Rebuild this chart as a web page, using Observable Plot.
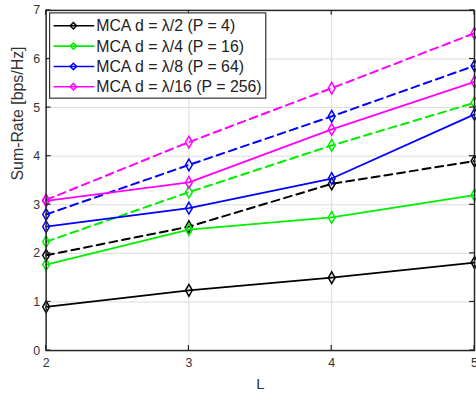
<!DOCTYPE html>
<html>
<head>
<meta charset="utf-8">
<script src="https://cdn.jsdelivr.net/npm/d3@7"></script>
<script src="https://cdn.jsdelivr.net/npm/@observablehq/plot@0.6"></script>
<style>
  html, body { margin: 0; padding: 0; background: #fff; overflow: hidden; }
  #chart svg { display: block; }
</style>
</head>
<body>
<div id="chart"></div>
<script>
// ---- data ----
const L = [2, 3, 4, 5];
const yTicks = [0, 1, 2, 3, 4, 5, 6, 7];
const seriesNames = [
  "MCA d = λ/2 (P = 4)",
  "MCA d = λ/4 (P = 16)",
  "MCA d = λ/8 (P = 64)",
  "MCA d = λ/16 (P = 256)"
];
const seriesColors = ["#000000", "#00ee00", "#0000ff", "#ff00ff"];
const solidValues = [
  [0.90, 1.24, 1.50, 1.81],
  [1.77, 2.49, 2.74, 3.20],
  [2.55, 2.93, 3.54, 4.86],
  [3.08, 3.46, 4.55, 5.53]
];
const dashedValues = [
  [1.96, 2.55, 3.43, 3.90],
  [2.24, 3.26, 4.22, 5.10],
  [2.80, 3.82, 4.82, 5.86],
  [3.10, 4.29, 5.40, 6.53]
];

// ---- tables ----
const solidRows = [], dashedRows = [];
seriesNames.forEach((s, i) => {
  L.forEach((l, j) => {
    solidRows.push({series: s, L: l, v: solidValues[i][j]});
    dashedRows.push({series: s, L: l, v: dashedValues[i][j]});
  });
});

const font = "'Liberation Sans', Arial, Helvetica, sans-serif";

const chart = Plot.plot({
  width: 480,
  height: 398,
  marginLeft: 46,
  marginRight: 2,
  marginTop: 10,
  marginBottom: 45,
  style: {fontFamily: font, background: "#fff"},
  x: {domain: [2, 5], label: null},
  y: {domain: [0, 7], label: null},
  color: {domain: seriesNames, range: seriesColors},
  marks: [
    Plot.ruleX(L.slice(1, -1), {stroke: "#dcdcdc", strokeWidth: 1}),
    Plot.ruleY(yTicks.slice(1, -1), {stroke: "#dcdcdc", strokeWidth: 1}),
    Plot.axisX({ticks: L, tickFormat: d => String(d), tickSize: 0, tickPadding: 8, fontSize: 12.5, fill: "#333", label: null}),
    Plot.axisY({ticks: yTicks, tickFormat: d => String(d), tickSize: 0, tickPadding: 6, fontSize: 12.5, fill: "#333", label: null}),
    Plot.line(dashedRows, {x: "L", y: "v", z: "series", stroke: "series", strokeWidth: 2, strokeDasharray: "8,5"}),
    Plot.dot(dashedRows, {x: "L", y: "v", stroke: "series", symbol: "diamond", r: 3.6, strokeWidth: 1.5, fill: "none"}),
    Plot.line(solidRows, {x: "L", y: "v", z: "series", stroke: "series", strokeWidth: 1.8}),
    Plot.dot(solidRows, {x: "L", y: "v", stroke: "series", symbol: "diamond", r: 3.6, strokeWidth: 1.5, fill: "none"}),
    Plot.frame({stroke: "#262626", strokeWidth: 1.5}),
    Plot.text(["Sum-Rate [bps/Hz]"], {frameAnchor: "left", rotate: -90, dx: -28, fontSize: 16, fill: "#333"}),
    Plot.text(["L"], {frameAnchor: "bottom", dy: 39, fontSize: 15, fill: "#333"})
  ]
});

document.getElementById("chart").appendChild(chart);

// inward tick marks along frame
const svg = d3.select(chart);
const xs = chart.scale("x"), ys = chart.scale("y");
const tg = svg.append("g").attr("stroke", "#262626").attr("stroke-width", 1.2);
L.forEach(l => {
  const px = xs.apply(l);
  tg.append("line").attr("x1", px).attr("x2", px).attr("y1", ys.apply(0)).attr("y2", ys.apply(0) - 5);
  tg.append("line").attr("x1", px).attr("x2", px).attr("y1", ys.apply(7)).attr("y2", ys.apply(7) + 5);
});
yTicks.forEach(t => {
  const py = ys.apply(t);
  tg.append("line").attr("x1", xs.apply(2)).attr("x2", xs.apply(2) + 5).attr("y1", py).attr("y2", py);
  tg.append("line").attr("x1", xs.apply(5)).attr("x2", xs.apply(5) - 5).attr("y1", py).attr("y2", py);
});

// legend
const lg = svg.append("g").attr("font-family", font).attr("text-anchor", "start");
lg.append("rect").attr("x", 50).attr("y", 13).attr("width", 218).attr("height", 86)
  .attr("fill", "#fff").attr("stroke", "#333").attr("stroke-width", 1.2);
const diamond = d3.symbol(d3.symbolDiamond2, 26)();
seriesNames.forEach((s, i) => {
  const cy = 26 + i * 20.5;
  const c = seriesColors[i];
  lg.append("line").attr("x1", 54).attr("x2", 95).attr("y1", cy).attr("y2", cy)
    .attr("stroke", c).attr("stroke-width", 1.6);
  lg.append("path").attr("d", diamond).attr("transform", `translate(74,${cy})`)
    .attr("fill", "none").attr("stroke", c).attr("stroke-width", 1.5);
  lg.append("text").attr("x", 97).attr("y", cy).attr("dy", "0.36em")
    .attr("font-size", 16).attr("fill", "#222").text(s);
});
</script>
</body>
</html>
